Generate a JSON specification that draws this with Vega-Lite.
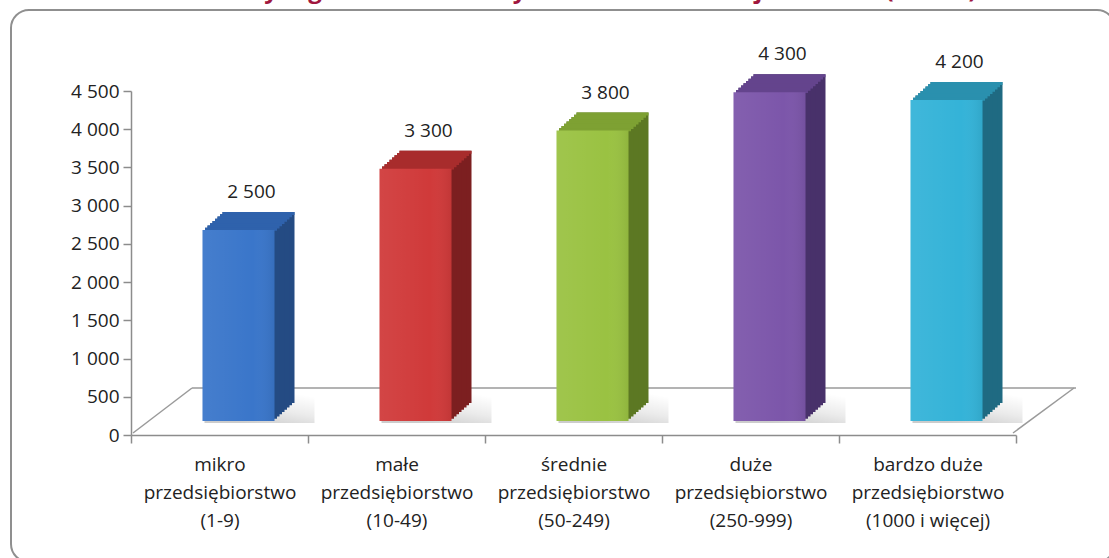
{
  "$schema": "https://vega.github.io/schema/vega-lite/v6.json",
  "autosize": {"type": "none"},
  "padding": {"left": 11, "top": 10, "right": 0, "bottom": 0},
  "width": 1104,
  "height": 552,
  "background": "white",
  "title": {
    "text": "Mediana wynagrodzeń całkowitych w firmach różnej wielkości (w PLN)",
    "color": "#A0173E",
    "fontSize": 24,
    "fontWeight": "bold",
    "font": "Open Sans",
    "baseline": "alphabetic",
    "offset": 0,
    "dy": 12,
    "dx": -8,
    "anchor": "middle",
    "frame": "group"
  },
  "data": {
    "values": [
      {"cat": "mikro|przedsiębiorstwo|(1-9)", "v": 2500},
      {"cat": "małe|przedsiębiorstwo|(10-49)", "v": 3300},
      {"cat": "średnie|przedsiębiorstwo|(50-249)", "v": 3800},
      {"cat": "duże|przedsiębiorstwo|(250-999)", "v": 4300},
      {"cat": "bardzo duże|przedsiębiorstwo|(1000 i więcej)", "v": 4200}
    ]
  },
  "encoding": {
    "x": {
      "field": "cat", "type": "nominal", "sort": null,
      "scale": {"domain": ["mikro|przedsiębiorstwo|(1-9)", "małe|przedsiębiorstwo|(10-49)", "średnie|przedsiębiorstwo|(50-249)", "duże|przedsiębiorstwo|(250-999)", "bardzo duże|przedsiębiorstwo|(1000 i więcej)"], "range": [120, 1005], "paddingInner": 0, "paddingOuter": 0},
      "axis": {
        "title": null, "offset": -127, "labelAngle": 0,
        "labelExpr": "datum.value ? split(datum.value, '|') : ''",
        "labelFont": "Open Sans", "labelFontSize": 19, "labelColor": "#222222",
        "labelLineHeight": 28, "labelPadding": 12,
        "domainColor": "#8c8c8c", "domainWidth": 1.5,
        "tickColor": "#8c8c8c", "tickWidth": 1.5, "tickSize": 8, "tickBand": "extent",
        "grid": false
      }
    },
    "y": {
      "field": "v", "type": "quantitative",
      "scale": {"domain": [0, 4500], "range": [425, 81], "nice": false, "zero": true},
      "axis": {
        "title": null, "offset": -120, "values": [0, 500, 1000, 1500, 2000, 2500, 3000, 3500, 4000, 4500],
        "format": ",d",
        "labelFont": "Open Sans", "labelFontSize": 19, "labelColor": "#222222", "labelPadding": 4,
        "domainColor": "#8c8c8c", "domainWidth": 1.5,
        "tickColor": "#8c8c8c", "tickWidth": 1.5, "tickSize": 8,
        "grid": false
      }
    }
  },
  "layer": [
    {
      "transform": [{"filter": "datum.cat == 'mikro|przedsiębiorstwo|(1-9)'"}],
      "mark": {"type": "rule", "color": "#9a9a9a", "strokeWidth": 1.5, "xOffset": -86.5, "x2Offset": -27.5, "yOffset": -2},
      "encoding": {
        "x2": {"field": "cat"},
        "y": {"datum": 0},
        "y2": {"datum": 615}
      }
    },
    {
      "transform": [{"filter": "datum.cat == 'mikro|przedsiębiorstwo|(1-9)'"}],
      "mark": {"type": "rule", "color": "#9a9a9a", "strokeWidth": 1.5, "xOffset": -27.5, "x2Offset": 856.5},
      "encoding": {
        "x2": {"field": "cat"},
        "y": {"datum": 615}
      }
    },
    {
      "transform": [{"filter": "datum.cat == 'bardzo duże|przedsiębiorstwo|(1000 i więcej)'"}],
      "mark": {"type": "rule", "color": "#9a9a9a", "strokeWidth": 1.5, "xOffset": 85.5, "x2Offset": 146.5, "yOffset": -2},
      "encoding": {
        "x2": {"field": "cat"},
        "y": {"datum": 0},
        "y2": {"datum": 615}
      }
    },
    {"mark": {"type": "bar", "width": 110, "xOffset": 40, "yOffset": -12, "y2Offset": -12, "fill": {"gradient": "linear", "x1": 0.35, "y1": 1, "x2": 1, "y2": 0.1, "stops": [{"offset": 0, "color": "rgba(0,0,0,0.20)"}, {"offset": 0.5, "color": "rgba(0,0,0,0.08)"}, {"offset": 1, "color": "rgba(0,0,0,0)"}]}}, "encoding": {"y": {"datum": 0}, "y2": {"datum": 380}}},
    {"mark": {"type": "bar", "width": 72, "xOffset": 39, "yOffset": -32, "y2Offset": -32}, "encoding": {"y2": {"datum": 0}, "color": {"field": "cat", "sort": null, "legend": null, "scale": {"range": ["#244B83", "#7C1F20", "#5C7823", "#48316A", "#1F6A82"]}}}},
    {"mark": {"type": "bar", "width": 72, "xOffset": 36.5, "yOffset": -29.75, "y2Offset": -29.75}, "encoding": {"y2": {"datum": 0}, "color": {"field": "cat", "sort": null, "legend": null, "scale": {"range": ["#244B83", "#7C1F20", "#5C7823", "#48316A", "#1F6A82"]}}}},
    {"mark": {"type": "bar", "width": 72, "xOffset": 34, "yOffset": -27.5, "y2Offset": -27.5}, "encoding": {"y2": {"datum": 0}, "color": {"field": "cat", "sort": null, "legend": null, "scale": {"range": ["#244B83", "#7C1F20", "#5C7823", "#48316A", "#1F6A82"]}}}},
    {"mark": {"type": "bar", "width": 72, "xOffset": 31.5, "yOffset": -25.25, "y2Offset": -25.25}, "encoding": {"y2": {"datum": 0}, "color": {"field": "cat", "sort": null, "legend": null, "scale": {"range": ["#244B83", "#7C1F20", "#5C7823", "#48316A", "#1F6A82"]}}}},
    {"mark": {"type": "bar", "width": 72, "xOffset": 29, "yOffset": -23, "y2Offset": -23}, "encoding": {"y2": {"datum": 0}, "color": {"field": "cat", "sort": null, "legend": null, "scale": {"range": ["#244B83", "#7C1F20", "#5C7823", "#48316A", "#1F6A82"]}}}},
    {"mark": {"type": "bar", "width": 72, "xOffset": 26.5, "yOffset": -20.75, "y2Offset": -20.75}, "encoding": {"y2": {"datum": 0}, "color": {"field": "cat", "sort": null, "legend": null, "scale": {"range": ["#244B83", "#7C1F20", "#5C7823", "#48316A", "#1F6A82"]}}}},
    {"mark": {"type": "bar", "width": 72, "xOffset": 24, "yOffset": -18.5, "y2Offset": -18.5}, "encoding": {"y2": {"datum": 0}, "color": {"field": "cat", "sort": null, "legend": null, "scale": {"range": ["#244B83", "#7C1F20", "#5C7823", "#48316A", "#1F6A82"]}}}},
    {"mark": {"type": "bar", "width": 72, "xOffset": 21.5, "yOffset": -16.25, "y2Offset": -16.25}, "encoding": {"y2": {"datum": 0}, "color": {"field": "cat", "sort": null, "legend": null, "scale": {"range": ["#244B83", "#7C1F20", "#5C7823", "#48316A", "#1F6A82"]}}}},
    {"mark": {"type": "bar", "width": 72, "xOffset": 39, "yOffset": -32, "y2Offset": -29}, "encoding": {"y2": {"field": "v"}, "color": {"field": "cat", "sort": null, "legend": null, "scale": {"range": ["#2F62AC", "#A82C2C", "#7EA133", "#64448D", "#2A90AE"]}}}},
    {"mark": {"type": "bar", "width": 72, "xOffset": 36.5, "yOffset": -29.75, "y2Offset": -26.75}, "encoding": {"y2": {"field": "v"}, "color": {"field": "cat", "sort": null, "legend": null, "scale": {"range": ["#2F62AC", "#A82C2C", "#7EA133", "#64448D", "#2A90AE"]}}}},
    {"mark": {"type": "bar", "width": 72, "xOffset": 34, "yOffset": -27.5, "y2Offset": -24.5}, "encoding": {"y2": {"field": "v"}, "color": {"field": "cat", "sort": null, "legend": null, "scale": {"range": ["#2F62AC", "#A82C2C", "#7EA133", "#64448D", "#2A90AE"]}}}},
    {"mark": {"type": "bar", "width": 72, "xOffset": 31.5, "yOffset": -25.25, "y2Offset": -22.25}, "encoding": {"y2": {"field": "v"}, "color": {"field": "cat", "sort": null, "legend": null, "scale": {"range": ["#2F62AC", "#A82C2C", "#7EA133", "#64448D", "#2A90AE"]}}}},
    {"mark": {"type": "bar", "width": 72, "xOffset": 29, "yOffset": -23, "y2Offset": -20}, "encoding": {"y2": {"field": "v"}, "color": {"field": "cat", "sort": null, "legend": null, "scale": {"range": ["#2F62AC", "#A82C2C", "#7EA133", "#64448D", "#2A90AE"]}}}},
    {"mark": {"type": "bar", "width": 72, "xOffset": 26.5, "yOffset": -20.75, "y2Offset": -17.75}, "encoding": {"y2": {"field": "v"}, "color": {"field": "cat", "sort": null, "legend": null, "scale": {"range": ["#2F62AC", "#A82C2C", "#7EA133", "#64448D", "#2A90AE"]}}}},
    {"mark": {"type": "bar", "width": 72, "xOffset": 24, "yOffset": -18.5, "y2Offset": -15.5}, "encoding": {"y2": {"field": "v"}, "color": {"field": "cat", "sort": null, "legend": null, "scale": {"range": ["#2F62AC", "#A82C2C", "#7EA133", "#64448D", "#2A90AE"]}}}},
    {"mark": {"type": "bar", "width": 72, "xOffset": 21.5, "yOffset": -16.25, "y2Offset": -13.25}, "encoding": {"y2": {"field": "v"}, "color": {"field": "cat", "sort": null, "legend": null, "scale": {"range": ["#2F62AC", "#A82C2C", "#7EA133", "#64448D", "#2A90AE"]}}}},
    {"mark": {"type": "bar", "width": 72, "xOffset": 19, "yOffset": -14, "y2Offset": -14}, "encoding": {"y2": {"datum": 0}, "color": {"field": "cat", "sort": null, "legend": null, "scale": {"range": ["#3A76CA", "#D03A3A", "#9AC242", "#7C56AA", "#34B3D8"]}}}},
    {"mark": {"type": "bar", "width": 72, "xOffset": 19, "yOffset": -14, "y2Offset": -14, "fill": {"gradient": "linear", "x1": 0, "y1": 0, "x2": 1, "y2": 0, "stops": [{"offset": 0, "color": "rgba(255,255,255,0.06)"}, {"offset": 0.7, "color": "rgba(255,255,255,0.0)"}, {"offset": 1, "color": "rgba(0,0,0,0.07)"}]}}, "encoding": {"y2": {"datum": 0}}},
    {"mark": {"type": "text", "dx": 32, "dy": -52, "baseline": "middle", "align": "center", "font": "Open Sans", "fontSize": 19, "color": "#222222"}, "encoding": {"text": {"field": "v", "type": "quantitative", "format": ",d"}}}
  ],
  "resolve": {"scale": {"color": "independent"}},
  "config": {
    "locale": {"number": {"decimal": ",", "thousands": " ", "grouping": [3], "currency": ["", " zł"]}},
    "view": {"stroke": "#8f8f8f", "strokeWidth": 2, "cornerRadius": 18, "fill": "white"}
  }
}
